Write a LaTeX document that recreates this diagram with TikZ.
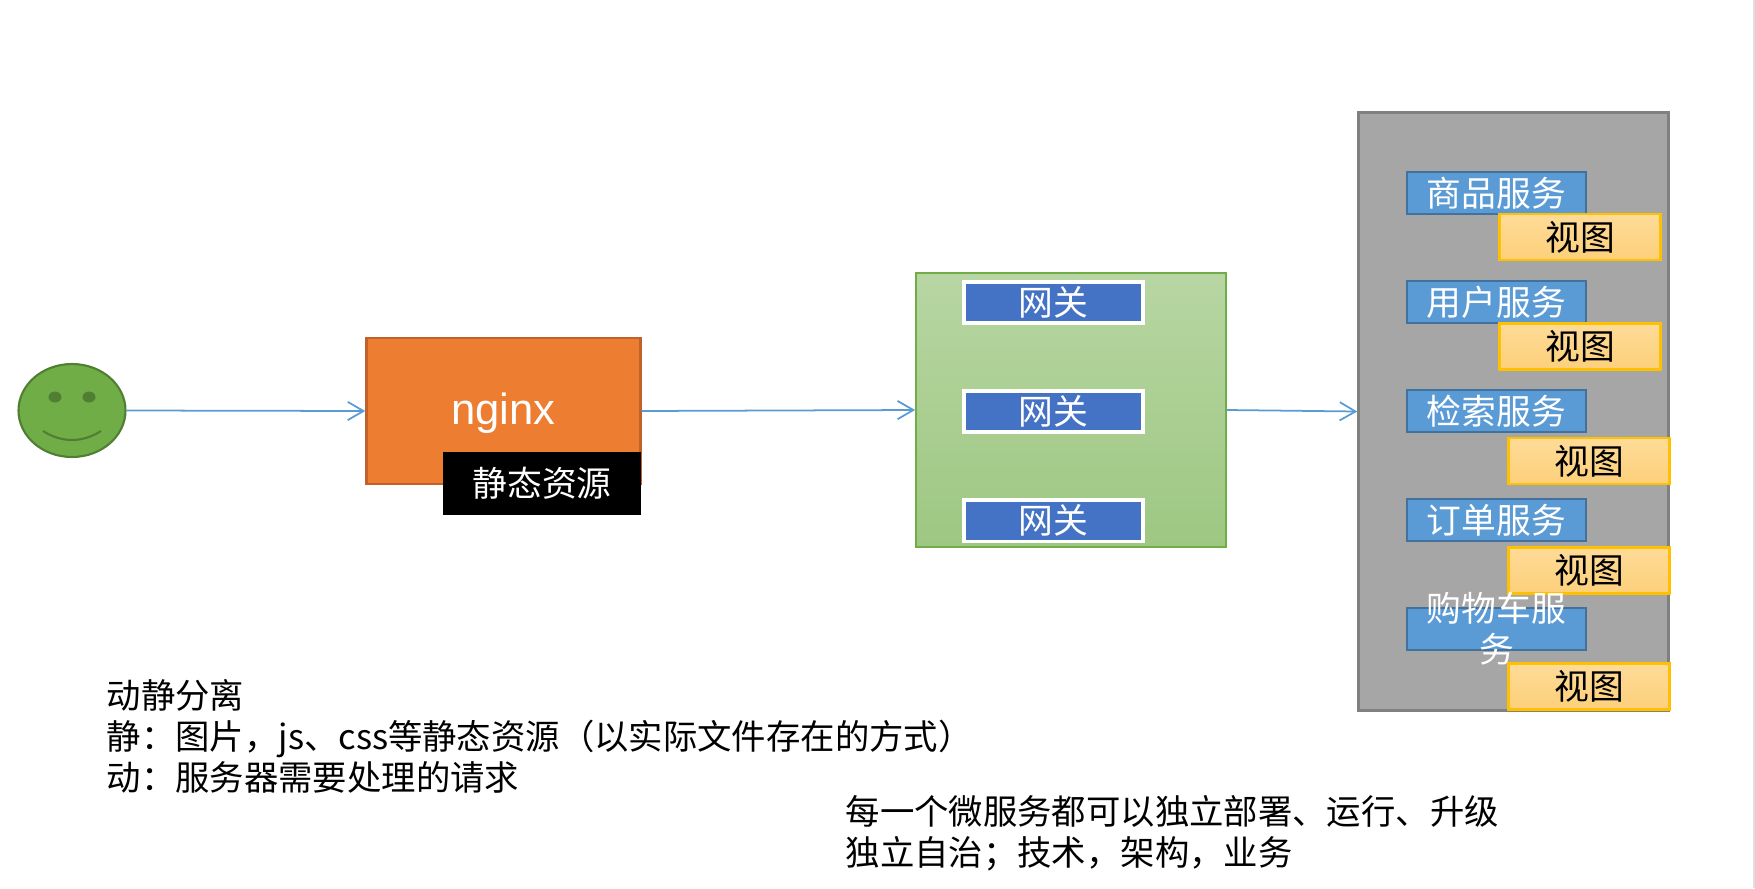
\documentclass[tikz,border=0pt]{standalone}
\usepackage{xcolor}
\usepackage{fontspec}
\setmainfont{Noto Sans CJK SC}
\newfontfamily\latinfont{Liberation Sans}
\usepackage{tikz}
\usetikzlibrary{shapes.geometric,arrows.meta}
\definecolor{facegreen}{HTML}{70AD47}
\definecolor{faceline}{HTML}{507E32}
\definecolor{linkblue}{HTML}{5B9BD5}
\definecolor{nginxorange}{HTML}{ED7D31}
\definecolor{nginxline}{HTML}{C0622A}
\definecolor{gateblue}{HTML}{4472C4}
\definecolor{servline}{HTML}{41719C}
\definecolor{viewline}{HTML}{FFC000}
\definecolor{viewtop}{HTML}{FEDB98}
\definecolor{viewbottom}{HTML}{FDD07A}
\tikzset{
  cjktext/.style={font=\fontsize{9.9}{11.7}\selectfont},
  link/.style={-{Straight Barb[length=4.5pt,width=5.2pt]},color=linkblue,line width=0.5pt},
  gatebox/.style={cjktext,draw=white,line width=1pt,fill=gateblue,text=white,minimum width=1.79cm,minimum height=0.415cm,inner sep=0pt},
  servbox/.style={cjktext,draw=servline,line width=0.8pt,fill=linkblue,text=white,minimum width=1.79cm,minimum height=0.42cm,inner sep=0pt},
  viewbox/.style={cjktext,draw=viewline,line width=0.65pt,top color=viewtop,bottom color=viewbottom,text=black,minimum width=1.61cm,minimum height=0.46cm,inner sep=0pt},
  notetext/.style={font=\fontsize{9.78}{11.7}\selectfont,align=left,anchor=west,inner sep=0pt},
}

\begin{document}
\begin{tikzpicture}
\useasboundingbox (0,0) rectangle (17.55,8.88);
\draw[color=black!13,line width=0.57pt] (17.54,0) -- (17.54,8.88);
% user
\node[ellipse,draw=faceline,line width=0.6pt,fill=facegreen,minimum width=1.07cm,minimum height=0.93cm,inner sep=0pt] (face) at (0.72,4.775){};
\fill[color=faceline] (0.55,4.91) ellipse[x radius=0.065,y radius=0.055];
\fill[color=faceline] (0.89,4.91) ellipse[x radius=0.065,y radius=0.055];
\draw[color=faceline,line width=0.6pt] (0.43,4.57) .. controls (0.62,4.45) and (0.82,4.45) .. (1.01,4.57);
% nginx
\node[draw=nginxline,line width=0.7pt,fill=nginxorange,minimum width=2.74cm,minimum height=1.46cm,text=white,text height=10.5pt,text depth=2.6pt,font=\latinfont\fontsize{12.4}{14}\selectfont] (nginx) at (5.035,4.77){nginx};
\node[cjktext,fill=black,text=white,minimum width=1.98cm,minimum height=0.63cm,inner sep=0pt] (static) at (5.42,4.05){静态资源};
% gateways
\node[draw=facegreen,line width=0.5pt,top color=facegreen!50!white,bottom color=facegreen!68!white,minimum width=3.10cm,minimum height=2.74cm] (gateway) at (10.71,4.78){};
\node[gatebox] (gatea) at (10.535,5.855){网关};
\node[gatebox] (gateb) at (10.535,4.765){网关};
\node[gatebox] (gatec) at (10.535,3.675){网关};
% services
\node[draw=black!50,line width=0.7pt,fill=black!35,minimum width=3.10cm,minimum height=5.98cm] (cluster) at (15.135,4.765){};
\node[servbox] (goods) at (14.965,6.95){商品服务};
\node[servbox] (user) at (14.965,5.86){用户服务};
\node[servbox] (search) at (14.965,4.77){检索服务};
\node[servbox] (order) at (14.965,3.68){订单服务};
\node[servbox] (cart) at (14.965,2.59){};
\node[viewbox] (viewa) at (15.8,6.51){视图};
\node[viewbox] (viewb) at (15.8,5.415){视图};
\node[viewbox] (viewc) at (15.89,4.27){视图};
\node[viewbox] (viewd) at (15.89,3.175){视图};
\node[viewbox] (viewe) at (15.89,2.015){视图};
\node[cjktext,align=center,text=white,inner sep=0pt] (carttext) at (cart){购物车服\\务};
% links
\draw[link] (face.east) -- (nginx.west);
\draw[link] (nginx.east) -- (gateway.west);
\draw[link] (gateway.east) -- (cluster.west);
% notes
\node[notetext] (staticnote) at (1.06,1.52){动静分离\\静：图片，js、css等静态资源（以实际文件存在的方式）\\动：服务器需要处理的请求};
\node[notetext] (servicenote) at (8.45,0.545){每一个微服务都可以独立部署、运行、升级\\独立自治；技术，架构，业务};
\end{tikzpicture}
\end{document}
